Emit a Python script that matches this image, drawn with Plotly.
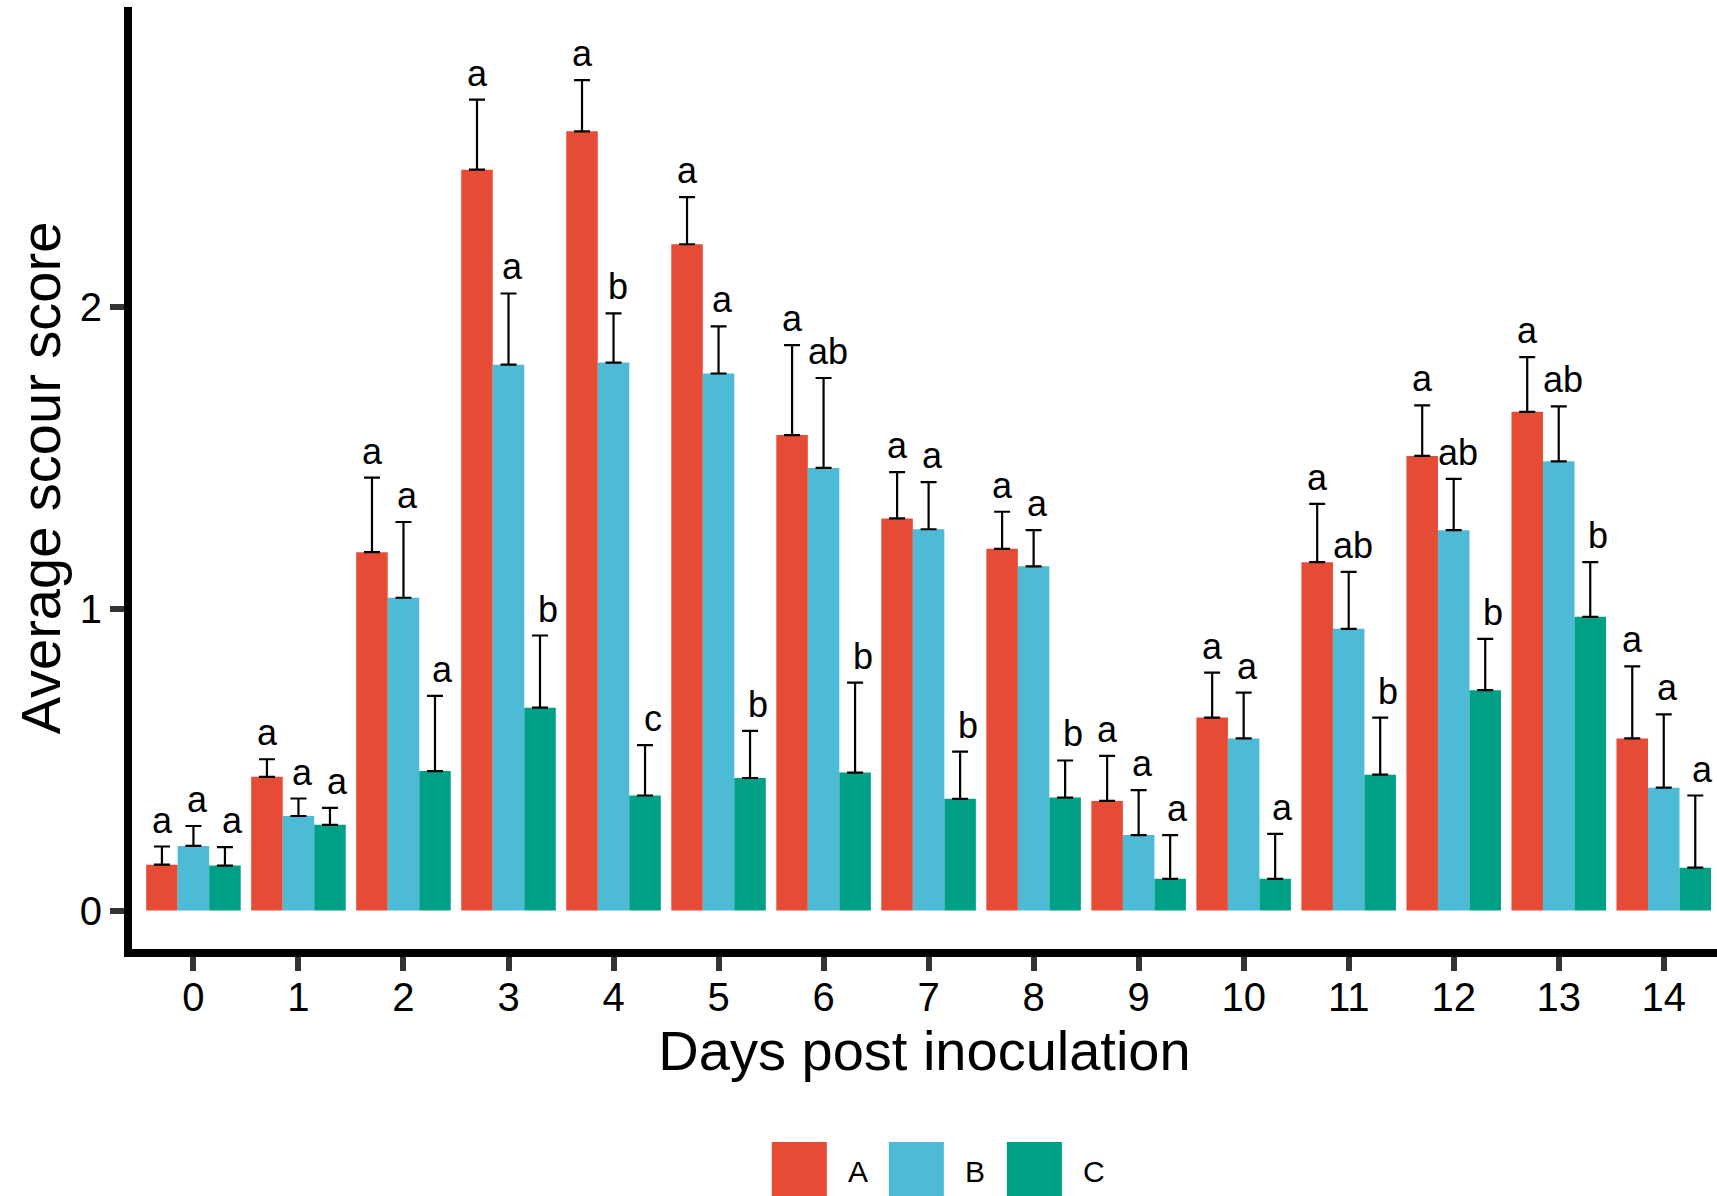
import plotly.graph_objects as go

days = list(range(15))
day_labels = [str(d) for d in days]
groups = ["A", "B", "C"]
colors = ["#E64B35", "#4DBBD5", "#00A087"]

mean_A = [0.152, 0.443, 1.187, 2.454, 2.581, 2.207, 1.575, 1.299, 1.198, 0.363, 0.639, 1.154, 1.506, 1.652, 0.570]
upper_A = [0.212, 0.501, 1.434, 2.686, 2.751, 2.363, 1.873, 1.452, 1.321, 0.512, 0.788, 1.347, 1.673, 1.833, 0.809]
mean_B = [0.214, 0.313, 1.036, 1.808, 1.815, 1.779, 1.466, 1.263, 1.140, 0.250, 0.570, 0.933, 1.260, 1.488, 0.407]
upper_B = [0.280, 0.371, 1.287, 2.044, 1.978, 1.935, 1.764, 1.419, 1.260, 0.399, 0.722, 1.122, 1.430, 1.670, 0.650]
mean_C = [0.149, 0.284, 0.462, 0.672, 0.381, 0.439, 0.457, 0.370, 0.374, 0.105, 0.105, 0.450, 0.730, 0.973, 0.142]
upper_C = [0.210, 0.340, 0.711, 0.911, 0.548, 0.595, 0.755, 0.526, 0.497, 0.250, 0.254, 0.639, 0.900, 1.154, 0.381]

letters_A = ["a"] * 15
letters_B = ["a", "a", "a", "a", "b", "a", "ab", "a", "a", "a", "a", "ab", "ab", "ab", "a"]
letters_C = ["a", "a", "a", "b", "c", "b", "b", "b", "b", "a", "a", "b", "b", "b", "a"]

means = [mean_A, mean_B, mean_C]
uppers = [upper_A, upper_B, upper_C]
letters = [letters_A, letters_B, letters_C]

FONT = "Liberation Sans, Arial, sans-serif"

fig = go.Figure()
for i, g in enumerate(groups):
    err = [u - m for u, m in zip(uppers[i], means[i])]
    fig.add_trace(go.Bar(
        x=days, y=means[i], name=g,
        marker=dict(color=colors[i], line=dict(width=0)),
        error_y=dict(type="data", array=err, arrayminus=[0] * len(err), symmetric=False,
                     color="black", thickness=2.2, width=8),
        showlegend=False,
    ))

annotations = []
label_dodge = 1.0 / 3.0
label_shift = 0.04
for i in range(3):
    for d, u, t in zip(days, uppers[i], letters[i]):
        annotations.append(dict(
            x=d + (i - 1) * label_dodge + label_shift, y=u, text=t, showarrow=False,
            xref="x", yref="y", yanchor="bottom", yshift=4,
            font=dict(family=FONT, size=36, color="black"),
        ))

# legend drawn below the plot
W, H = 1717, 1196
L, R, T, B = 132.3, 0, 7, 247
pw, ph = W - L - R, H - T - B


def px_x(p):
    return (p - L) / pw


def px_y(p):
    return (H - B - p) / ph


key_left = [772, 889, 1007]
key_size = 55
key_top = 1142
label_cx = [858, 975, 1094]
label_cy = 1171
shapes = []
for i, g in enumerate(groups):
    shapes.append(dict(type="rect", xref="paper", yref="paper",
                       x0=px_x(key_left[i]), x1=px_x(key_left[i] + key_size),
                       y0=px_y(key_top + key_size), y1=px_y(key_top),
                       fillcolor=colors[i], line=dict(width=0)))
    annotations.append(dict(xref="paper", yref="paper", x=px_x(label_cx[i]), y=px_y(label_cy),
                            text=g, showarrow=False, xanchor="center", yanchor="middle",
                            font=dict(family=FONT, size=30, color="black")))

fig.update_layout(
    width=W, height=H,
    template="none",
    plot_bgcolor="white", paper_bgcolor="white",
    margin=dict(l=L, r=R, t=T, b=B, pad=0),
    barmode="group", bargap=0.1, bargroupgap=0,
    showlegend=False,
    annotations=annotations,
    shapes=shapes,
    font=dict(family=FONT, color="black"),
)
fig.update_xaxes(
    range=[-0.585, 14.507], tickmode="array", tickvals=days, ticktext=day_labels,
    showline=True, linewidth=8, linecolor="black", mirror=False,
    ticks="outside", ticklen=14, tickwidth=6, tickcolor="#333333",
    tickfont=dict(family=FONT, size=40, color="black"), ticklabelstandoff=-8,
    showgrid=False, zeroline=False, automargin=False,
    title=dict(text="Days post inoculation", font=dict(family=FONT, size=56, color="black"), standoff=6),
)
fig.update_yaxes(
    range=[-0.1275, 2.993], tickmode="array", tickvals=[0, 1, 2], ticktext=["0", "1", "2"],
    showline=True, linewidth=8, linecolor="black", mirror=False,
    ticks="outside", ticklen=14, tickwidth=6, tickcolor="#333333",
    tickfont=dict(family=FONT, size=40, color="black"),
    showgrid=False, zeroline=False, automargin=False,
    title=dict(text="Average scour score", font=dict(family=FONT, size=56, color="black"), standoff=4),
)

fig.write_html("out.html",
               config={"displayModeBar": False},
               post_script="document.body.style.margin='0';document.body.style.padding='0';"
                           "document.documentElement.style.overflow='hidden';")
